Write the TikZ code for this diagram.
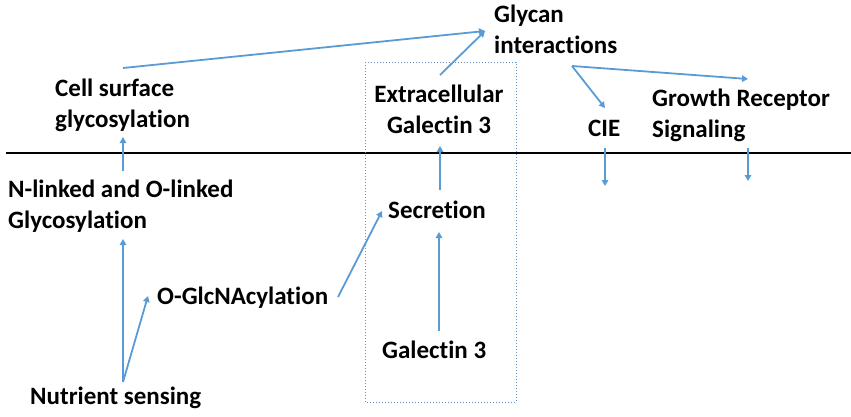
\documentclass[tikz,border=0pt]{standalone}
\usepackage{fontspec}
\setmainfont[Ligatures=NoCommon]{Carlito}
\usetikzlibrary{arrows.meta}
\definecolor{arr}{RGB}{91,155,213}
\definecolor{boxc}{RGB}{100,140,195}
\begin{document}
\begin{tikzpicture}[x=1pt,y=-1pt,
  lbl/.style={inner sep=0pt,font=\bfseries\fontsize{25}{31}\selectfont},
  conn/.style={draw=arr,line width=1.8pt,-{Triangle[length=6pt,width=6.5pt]}}]
\useasboundingbox (0,0) rectangle (851,416);
% membrane
\coordinate (mL) at (6,153);
\coordinate (mR) at (851,153);
\draw[line width=1.6pt] (mL) -- (mR);
% dotted box
\coordinate (bxA) at (365,62);
\coordinate (bxB) at (516,402);
\draw[boxc,dotted,line width=1pt] (bxA) rectangle (bxB);
% labels (base anchor of multi-line labels = last line)
\node[lbl,anchor=base west,align=left] (gly) at (494,53) {Glycan\\interactions};
\node[lbl,anchor=base west,align=left] (cell) at (55,127) {Cell surface\\glycosylation};
\node[lbl,anchor=base,align=center] (extra) at (439,133) {Extracellular\\Galectin 3};
\node[lbl,anchor=base west] (cie) at (588,136) {CIE};
\node[lbl,anchor=base west,align=left] (grow) at (652,137) {Growth Receptor\\Signaling};
\node[lbl,anchor=base west,align=left] (nlink) at (8,228) {N-linked and O-linked\\Glycosylation};
\node[lbl,anchor=base west] (oglc) at (157,304) {O-GlcNAcylation};
\node[lbl,anchor=base west] (nutr) at (30,404) {Nutrient sensing};
\node[lbl,anchor=base west] (secr) at (388,218) {Secretion};
\node[lbl,anchor=base west] (gal) at (382,358) {Galectin 3};
% connector endpoints
\coordinate (glyTip) at (485,31);
\coordinate (cellTop) at (123,68);
\coordinate (extraTop) at (440,75);
\coordinate (glyBot) at (572,66);
\coordinate (cieTop) at (605,108);
\coordinate (growTop) at (748,79);
\coordinate (cieA) at (605,148);
\coordinate (cieB) at (605,186);
\coordinate (growA) at (748,148);
\coordinate (growB) at (748,181);
\coordinate (extraBot) at (440,146);
\coordinate (secrTop) at (440,190);
\coordinate (secrBot) at (439,232);
\coordinate (galTop) at (439,331);
\coordinate (oglcR) at (338,297);
\coordinate (secrL) at (382,211);
\coordinate (nutrTop) at (123,382);
\coordinate (nlinkBot) at (123,239);
\coordinate (oglcL) at (148,296);
\coordinate (nlinkTop) at (123,171);
\coordinate (cellBot) at (123,137);
% connectors
\draw[conn] (cellTop) -- (glyTip);
\draw[conn] (extraTop) -- (glyTip);
\draw[conn] (glyBot) -- (cieTop);
\draw[conn] (glyBot) -- (growTop);
\draw[conn] (cieA) -- (cieB);
\draw[conn] (growA) -- (growB);
\draw[conn] (secrTop) -- (extraBot);
\draw[conn] (galTop) -- (secrBot);
\draw[conn] (oglcR) -- (secrL);
\draw[conn] (nutrTop) -- (nlinkBot);
\draw[conn] (nutrTop) -- (oglcL);
\draw[conn] (nlinkTop) -- (cellBot);
\end{tikzpicture}
\end{document}
